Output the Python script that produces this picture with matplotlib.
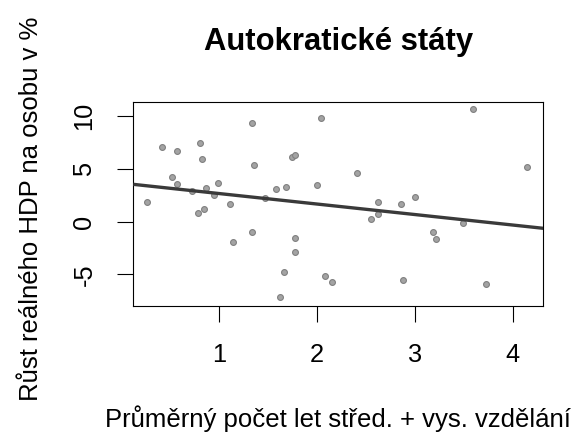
import matplotlib
matplotlib.use('Agg')
import matplotlib.pyplot as plt

# prumerny pocet let stred. + vys. vzdelani vs. rust HDP na osobu (autokracie)
vzdelani = [0.26, 0.42, 0.57, 0.81, 0.83, 0.52, 0.57, 0.72, 0.87, 0.95,
            0.99, 0.79, 0.85, 1.11, 1.34, 1.36, 1.34, 1.14, 1.58, 1.68,
            1.47, 1.74, 1.78, 1.78, 1.78, 1.66, 1.62, 2.04, 2.00, 2.08,
            2.15, 3.59, 2.41, 4.14, 3.00, 2.62, 2.86, 2.62, 2.55, 3.49,
            3.18, 3.21, 2.88, 3.73]
rust_hdp = [1.82, 7.03, 6.68, 7.41, 5.92, 4.25, 3.53, 2.92, 3.15, 2.51,
            3.68, 0.83, 1.21, 1.63, 9.31, 5.36, -1.00, -1.94, 3.11, 3.30,
            2.23, 6.09, 6.30, -1.59, -2.89, -4.76, -7.18, 9.86, 3.49, -5.17,
            -5.71, 10.63, 4.60, 5.17, 2.35, 1.82, 1.63, 0.68, 0.24, -0.11,
            -0.97, -1.63, -5.52, -5.92]

# regresni primka (abline)
intercept = 3.65
slope = -0.996

xticks = [1, 2, 3, 4]
yticks = [-5, 0, 5, 10]

plt.rcParams['font.family'] = ['Liberation Sans', 'DejaVu Sans']

fig = plt.figure(figsize=(5.76, 4.34), dpi=100)
ax = fig.add_axes([0.2314, 0.2956, 0.7118, 0.4701])

ax.plot(vzdelani, rust_hdp, 'o', ms=4.2, mfc='#a3a3a3', mec='#808080',
        mew=0.8, linestyle='none', zorder=2)

xlim = (0.125, 4.31)
ax.set_xlim(xlim)
ax.set_ylim(-7.98, 11.36)
ax.plot(xlim, [intercept + slope * x for x in xlim], color='#3a3a3a',
        lw=2.4, zorder=3, solid_capstyle='butt')

ax.set_xticks(xticks)
ax.set_yticks(yticks)
ax.set_yticklabels([str(t) for t in yticks], rotation=90, va='center')
ax.tick_params(direction='out', length=11.5, width=0.8, labelsize=18.3,
               pad=15)
for s in ax.spines.values():
    s.set_linewidth(0.8)

ax.set_title('Autokratické státy', fontsize=22.3, fontweight='bold', pad=37)
ax.set_xlabel('Průměrný počet let střed. + vys. vzdělání', fontsize=18.5,
              labelpad=28)
ax.set_ylabel('Růst reálného HDP na osobu v %', fontsize=18.5)
ax.yaxis.set_label_coords(-0.22, 0.475)

fig.savefig('out.png', dpi=100)
